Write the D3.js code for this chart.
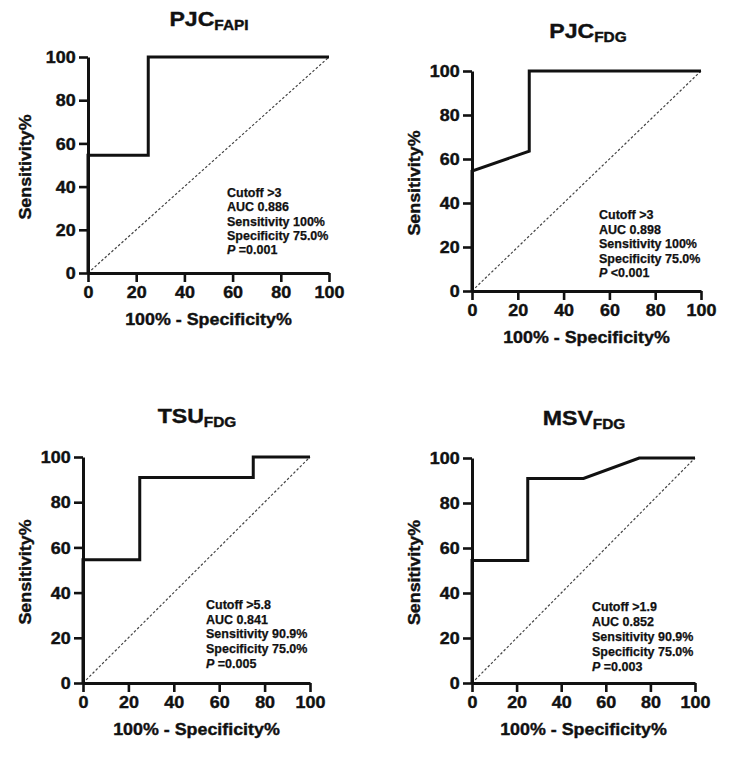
<!DOCTYPE html>
<html>
<head>
<meta charset="utf-8">
<script src="https://cdn.jsdelivr.net/npm/d3@7"></script>
<style>
  html, body { margin: 0; padding: 0; background: #fff; }
  svg { display: block; font-family: "Liberation Sans", Arial, sans-serif; font-weight: bold; }
</style>
</head>
<body>
<svg id="chart" width="742" height="757"></svg>
<script>
// ---------------- data ----------------
const titleMain = ["PJC", "PJC", "TSU", "MSV"];
const titleSub = ["FAPI", "FDG", "FDG", "FDG"];

const fprPJCFAPI = [0, 0, 25, 25, 100];
const tprPJCFAPI = [0, 54.5, 54.5, 100, 100];

const fprPJCFDG = [0, 0, 25, 25, 100];
const tprPJCFDG = [0, 54.5, 63.6, 100, 100];

const fprTSUFDG = [0, 0, 25, 25, 75, 75, 100];
const tprTSUFDG = [0, 54.5, 54.5, 90.9, 90.9, 100, 100];

const fprMSVFDG = [0, 0, 25, 25, 50, 75, 100];
const tprMSVFDG = [0, 54.5, 54.5, 90.9, 90.9, 100, 100];

const xTicks = [0, 20, 40, 60, 80, 100];
const yTicks = [0, 20, 40, 60, 80, 100];

const cutoffs = [">3", ">3", ">5.8", ">1.9"];
const aucs = ["0.886", "0.898", "0.841", "0.852"];
const sensitivities = ["100%", "100%", "90.9%", "90.9%"];
const specificities = ["75.0%", "75.0%", "75.0%", "75.0%"];
const pValues = ["=0.001", "<0.001", "=0.005", "=0.003"];

const xLabel = "100% - Specificity%";
const yLabel = "Sensitivity%";

// ---------------- layout ----------------
const layouts = [
  { x0: 88,  x1: 329, yTop: 57,  yBot: 273, tx: 209, tb: 26,  ytx: 25,  ax: 227, ab: 197, ad: 14.3 },
  { x0: 472, x1: 701, yTop: 71,  yBot: 291, tx: 588, tb: 38,  ytx: 414, ax: 599, ab: 219, ad: 14.5 },
  { x0: 83,  x1: 310, yTop: 457, yBot: 683, tx: 197, tb: 423, ytx: 25,  ax: 206, ab: 609, ad: 14.7 },
  { x0: 472, x1: 695, yTop: 458, yBot: 683, tx: 584, tb: 425, ytx: 414, ax: 592, ab: 611, ad: 14.9 }
];

const series = [
  [fprPJCFAPI, tprPJCFAPI],
  [fprPJCFDG, tprPJCFDG],
  [fprTSUFDG, tprTSUFDG],
  [fprMSVFDG, tprMSVFDG]
];

const svg = d3.select("#chart");
const ink = "#111";

layouts.forEach((L, i) => {
  const g = svg.append("g");
  const x = d3.scaleLinear().domain([0, 100]).range([L.x0, L.x1]);
  const y = d3.scaleLinear().domain([0, 100]).range([L.yBot, L.yTop]);

  // diagonal reference line
  g.append("line")
    .attr("x1", x(0)).attr("y1", y(0))
    .attr("x2", x(100)).attr("y2", y(100))
    .attr("stroke", "#444").attr("stroke-width", 1.2)
    .attr("stroke-dasharray", "2.5,2");

  // axes
  const xAxis = d3.axisBottom(x).tickValues(xTicks).tickSize(9).tickSizeOuter(0).tickPadding(5);
  const yAxis = d3.axisLeft(y).tickValues(yTicks).tickSize(9).tickSizeOuter(0).tickPadding(2);

  const gx = g.append("g").attr("transform", `translate(0,${L.yBot})`).call(xAxis);
  const gy = g.append("g").attr("transform", `translate(${L.x0},0)`).call(yAxis);

  [gx, gy].forEach(a => {
    a.select(".domain").attr("stroke", ink).attr("stroke-width", 3);
    a.selectAll(".tick line").attr("stroke", ink).attr("stroke-width", 2.6);
    a.selectAll(".tick text")
      .attr("fill", ink)
      .attr("stroke", ink).attr("stroke-width", 0.4)
      .style("font-size", "16px")
      .style("font-weight", "bold")
      .style("font-family", '"Liberation Sans", Arial, sans-serif');
  });
  gx.selectAll(".tick text").attr("transform", "scale(1.12,1)");
  gy.selectAll(".tick text").attr("transform", "scale(1.12,1)").attr("dy", "0.36em");

  // ROC curve
  const [fx, ty] = series[i];
  const pts = fx.map((v, k) => [v, ty[k]]);
  const line = d3.line().x(d => x(d[0])).y(d => y(d[1]));
  g.append("path")
    .attr("d", line(pts))
    .attr("fill", "none")
    .attr("stroke", ink)
    .attr("stroke-width", 3)
    .attr("stroke-linejoin", "miter");

  // title
  const t = g.append("text")
    .attr("transform", `translate(${L.tx},${L.tb}) scale(1.1,1)`)
    .attr("text-anchor", "middle")
    .attr("fill", ink)
    .attr("stroke", ink).attr("stroke-width", 0.4)
    .style("font-size", "21px");
  t.append("tspan").text(titleMain[i]);
  t.append("tspan").attr("dy", 4).style("font-size", "14px").text(titleSub[i]);

  // x axis title
  g.append("text")
    .attr("transform", `translate(${(L.x0 + L.x1) / 2},${L.yBot + 52}) scale(1.05,1)`)
    .attr("text-anchor", "middle")
    .attr("fill", ink)
    .attr("stroke", ink).attr("stroke-width", 0.4)
    .style("font-size", "17px")
    .text(xLabel);

  // y axis title
  g.append("text")
    .attr("transform", `translate(${L.ytx},${(L.yTop + L.yBot) / 2 + 2}) rotate(-90) scale(1.05,1)`)
    .attr("text-anchor", "middle")
    .attr("dy", "0.36em")
    .attr("fill", ink)
    .attr("stroke", ink).attr("stroke-width", 0.4)
    .style("font-size", "17px")
    .text(yLabel);

  // annotation
  const ann = g.append("text")
    .attr("fill", ink)
    .attr("stroke", ink).attr("stroke-width", 0.25)
    .style("font-size", "12.5px");
  const lines = [
    ["Cutoff " + cutoffs[i]],
    ["AUC " + aucs[i]],
    ["Sensitivity " + sensitivities[i]],
    ["Specificity " + specificities[i]]
  ];
  lines.forEach((ln, k) => {
    ann.append("tspan").attr("x", L.ax).attr("y", L.ab + k * L.ad).text(ln[0]);
  });
  ann.append("tspan").attr("x", L.ax).attr("y", L.ab + 4 * L.ad).style("font-style", "italic").text("P");
  ann.append("tspan").text(" " + pValues[i]);
});
</script>
</body>
</html>
